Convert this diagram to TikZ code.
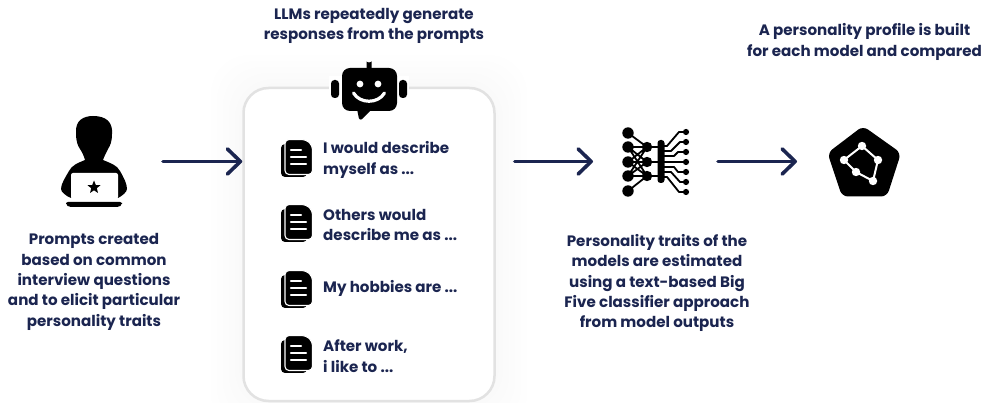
\documentclass[tikz,border=0pt]{standalone}
\usepackage{fontspec}
\setmainfont{Poppins}
\usetikzlibrary{arrows.meta,calc}
\definecolor{navy}{HTML}{1B2550}
\definecolor{boxline}{HTML}{E2E2E2}
\tikzset{
  lbl/.style={font=\fontsize{15.1}{20.4}\selectfont\bfseries,text=navy,align=center,inner sep=0pt},
  lbll/.style={font=\fontsize{15.1}{20.6}\selectfont\bfseries,text=navy,align=left,inner sep=0pt,anchor=west},
  holder/.style={inner sep=0pt,outer sep=0pt,minimum width=#1,draw=none},
  conn/.style={draw=navy,line width=3.6pt,line cap=round,line join=round,-{Straight Barb[length=13pt,width=25pt,line width=3.6pt,round]}},
  wl/.style={draw=white,line width=2.4pt,line cap=round},
  trace/.style={draw=black,line width=1.8pt,line join=round},
}
\newcommand{\docicon}[1]{%
  \begin{scope}[shift={(281,#1)}]
    \fill[black,rounded corners=4pt] (0,4) rectangle (26,37);
    \filldraw[fill=black,draw=white,line width=1.1pt,rounded corners=4pt] (4,-0.5) -- (25,-0.5) -- (31.5,5.5) -- (31.5,34.5) -- (4,34.5) -- cycle;
    \draw[wl] (10,10) -- (20,10);
    \draw[wl] (10,17) -- (25,17);
    \draw[wl] (10,24) -- (25,24);
  \end{scope}}
\begin{document}
\begin{tikzpicture}[x=1pt,y=-1pt]
\useasboundingbox (0,0) rectangle (983,403);
\fill[white] (0,0) rectangle (983,403);
% soft halo
\foreach \d in {32,26,20,14,8,4}
  \fill[black,opacity=0.004,rounded corners=38pt] (243-\d,87-\d) rectangle (495+\d,401+\d);
% box
\node[draw=boxline,line width=2.5pt,fill=white,rounded corners=25pt,minimum width=251pt,minimum height=313pt,inner sep=0pt] (box) at (369,244.5) {};

% robot
\node[holder=78pt,minimum height=66pt] (robot) at (369,90) {};
\fill[white] (329,76) rectangle (409,100);
\fill[black,rounded corners=1.5pt] (366.5,60) arc[start angle=180,end angle=0,radius=2.5] -- (371.5,70) -- (366.5,70) -- cycle;
\fill[black,rounded corners=8pt] (342,68) -- (397,68) -- (397,111) -- (372,111) -- (362,111) -- (342,111) -- cycle;
\fill[black,rounded corners=1pt] (357,109) -- (372,109) -- (361,120) -- (359,119) -- cycle;
\fill[black,rounded corners=3.5pt] (331,80) rectangle (339,98);
\fill[black,rounded corners=3.5pt] (399,80) rectangle (407,98);
\fill[white] (360,84) circle (3.4) (378,84) circle (3.4);
\draw[white,line width=3.2pt,line cap=round] (353.5,93) .. controls (360,104) and (378,104) .. (384.5,93);

% docs and labels
\docicon{140}\docicon{205}\docicon{271}\docicon{336}
\node[lbll] (t1) at (323,160) {I would describe\\myself as ...};
\node[lbll] (t2) at (323,225) {Others would\\describe me as ...};
\node[lbll] (t3) at (323,288) {My hobbies are ...};
\node[lbll] (t4) at (323,356) {After work,\\i like to ...};

% person
\node[holder=66pt,minimum height=91pt] (person) at (94,161.5) {};
\fill[black] (76,133) .. controls (75,120) and (84,116) .. (93,116) .. controls (106,116) and (113,122) .. (112,134) .. controls (112,142) and (110,146) .. (108,149) .. controls (106,153) and (104,157) .. (103,160) .. controls (110,163) and (117,165) .. (120,171) .. controls (124,178) and (127,184) .. (127,189) .. controls (127,192) and (122,196) .. (118,198) -- (71,198) .. controls (66,196) and (61,192) .. (61,189) .. controls (61,184) and (65,178) .. (69,171) .. controls (72,165) and (78,163) .. (85,160) .. controls (84,156) and (82,152) .. (80,149) .. controls (78,146) and (76,142) .. (76,133) -- cycle;
\fill[white,rounded corners=2pt] (71,173) -- (118,173) -- (118,199) -- (71,199) -- cycle;
\fill[black,rounded corners=2pt] (66,202) -- (122,202) -- (122,205) -- (119,207) -- (69,207) -- (66,205) -- cycle;
\fill[black] (94,180.5) -- (95.8,185) -- (100.5,185.2) -- (96.8,188.2) -- (98,193) -- (94,190.3) -- (90,193) -- (91.2,188.2) -- (87.5,185.2) -- (92.2,185) -- cycle;

% network
\node[holder=68pt,minimum height=68pt] (netw) at (656,162) {};
\draw[black,line width=1.8pt] (628,133) -- (647,147) (628,191) -- (647,176)
  (628,147) -- (647,176) (628,176) -- (647,147)
  (628,162) -- (647,147) (628,162) -- (647,176) (628,147) -- (647,162) (628,176) -- (647,162)
  (628,147) -- (661,147) (628,162) -- (661,162) (628,176) -- (661,176);
\foreach \y in {133,147,162,176,191} \fill[black] (628,\y) circle (5.7);
\foreach \y in {147,162,176} \fill[black] (647,\y) circle (5.2);
\fill[black,rounded corners=3pt] (657.5,140) rectangle (664.5,183);
\draw[trace] (661,146) -- (667,146) -- (679,132) -- (686,132);
\draw[trace] (661,151) -- (671,151) -- (680,142) -- (686,142);
\draw[trace] (661,156) -- (674,156) -- (678,152) -- (686,152);
\draw[trace] (661,162) -- (686,162);
\draw[trace] (661,167) -- (674,167) -- (678,172) -- (686,172);
\draw[trace] (661,172) -- (671,172) -- (680,182) -- (686,182);
\draw[trace] (661,177) -- (667,177) -- (679,192) -- (686,192);
\foreach \y in {132,142,152,162,172,182,192} \fill[black] (686,\y) circle (3.1);

% pentagon
\node[holder=72pt,minimum height=70pt] (penta) at (864,161.5) {};
\fill[black,rounded corners=6pt] (863,126) -- (901,153) -- (887,196.5) -- (842,196.5) -- (827.5,153) -- cycle;
\draw[white,line width=2pt,line join=round] (862,146) -- (878,160) -- (873,181) -- (856,172) -- (844,160) -- cycle;
\foreach \p in {(862,146),(878,160),(873,181),(856,172),(844,160)} \fill[white] \p circle (4.2);

% connectors
\draw[conn,shorten <=36pt] (person.east) -- (person.east -| box.west);
\draw[conn,shorten <=19pt,shorten >=29pt] (person.east -| box.east) -- (person.east -| netw.west);
\draw[conn,shorten <=28pt,shorten >=31pt] (person.east -| netw.east) -- (person.east -| penta.west);

% captions
\node[lbl] (capa) at (374,26) {LLMs repeatedly generate\\responses from the prompts};
\node[lbl] (capb) at (864.5,42) {A personality profile is built\\for each model and compared};
\node[lbl] (capc) at (94,282) {Prompts created\\based on common\\interview questions\\and to elicit particular\\personality traits};
\node[lbl] (capd) at (657,283) {Personality traits of the\\models are estimated\\using a text-based Big\\Five classifier approach\\from model outputs};
\end{tikzpicture}
\end{document}
